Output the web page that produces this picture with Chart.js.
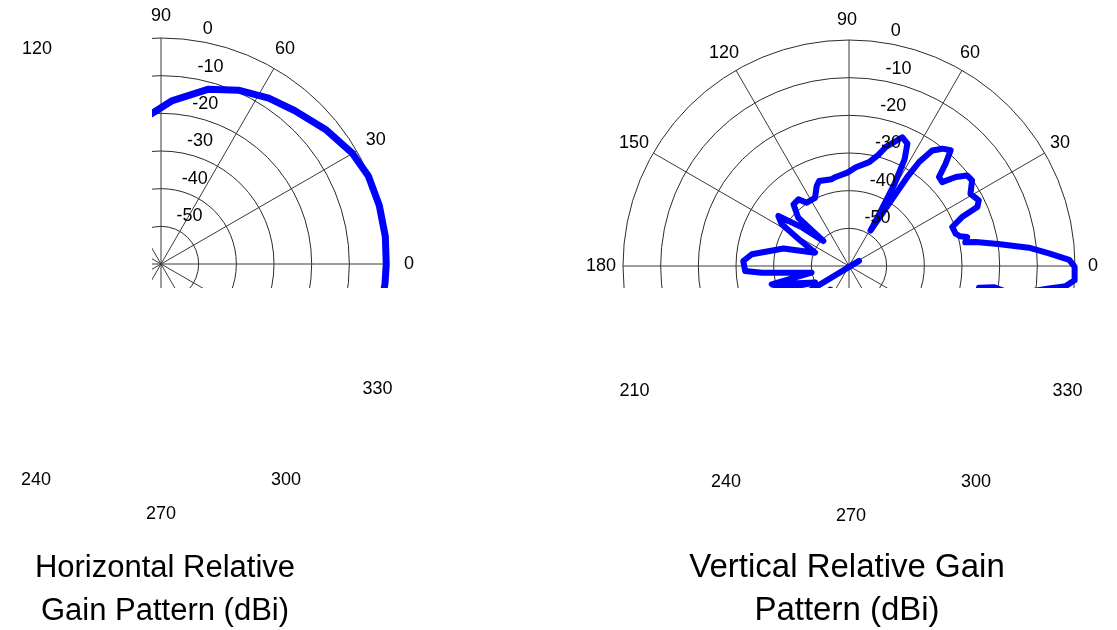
<!DOCTYPE html>
<html>
<head>
<meta charset="utf-8">
<script src="https://cdn.jsdelivr.net/npm/chart.js@4.4.1/dist/chart.umd.min.js"></script>
<style>
  html, body { margin: 0; padding: 0; background: #fff; }
  body { width: 1117px; height: 630px; position: relative; overflow: hidden; font-family: "Liberation Sans", Arial, sans-serif; }
  canvas { position: absolute; top: 0; }
  #hChart { left: 0; }
  #vChart { left: 558px; }
  .title { position: absolute; width: 400px; text-align: center; line-height: 43px; color: #000; }
  #hTitle { left: -35px; top: 545px; font-size: 31px; }
  #vTitle { left: 647px; top: 544px; font-size: 33px; }
</style>
</head>
<body>
<canvas id="hChart" width="558" height="630"></canvas>
<canvas id="vChart" width="559" height="630"></canvas>
<div class="title" id="hTitle">Horizontal Relative<br>Gain Pattern (dBi)</div>
<div class="title" id="vTitle">Vertical Relative Gain<br>Pattern (dBi)</div>

<script>
// radial scale: dB, centre of the plot is the floor
const dbFloor = -60;
const ringValues = [-50, -40, -30, -20, -10, 0];
const spokeAngles = [0, 30, 60, 90, 120, 150];

// angle tick labels (upper half and lower half of each plot)
const hUpperLabels = [0, 30, 60, 90, 120];
const hLowerLabels = [240, 270, 300, 330];
const vUpperLabels = [0, 30, 60, 90, 120, 150, 180];
const vLowerLabels = [210, 240, 270, 300, 330];

// horizontal pattern (angle in degrees, gain in dB)
const hAngles = [-10, -5, 0, 7, 15, 23, 30, 39, 49, 57, 66, 75, 86, 93, 100];
const hGain = [-0.5, -0.3, -0.2, 0, 0, -0.2, -1.3, -3.5, -6, -7.5, -9.5, -12, -16.5, -19.8, -22];

// vertical pattern, null = break in the trace
const vAngles = [
  -9, -6.4, -5.3, -3.6, -0.2, 1.6, 3.6, 5.8, 8.4, 10.7, 11.5, 13.8, 15, 16.8, 20.7,
  23.4, 24.7, 26.8, 30.7, 34.8, 37.5, 39.8, 42, 44.7, 46.6, 48.7, 51.5, 54.2, 56,
  56.8, 57.3, 58.7, 60, 61, 62.5, 64.5, 67.5, 72.9, 75, 79, 86, 91, 98.5, 101.3,
  109.4, 112, 116.5, 123.7, 127.2, 132, 136.4, 135.8, 140.5, 144.7, 148.2, 152,
  158.6, 165, 173.1, 177.3, 182.8, 184.4, 190.2, 193.3, 206, 197, 200,
  null, 27, 212,
  null, 232, 240,
  null, -9.5, -8.3, -9.5
];
const vGain = [
  -14, -6.6, -2.2, 0, -0.1, -1.5, -6.8, -12, -20, -25.8, -28.5, -27.7, -29.5, -30.4, -30.7,
  -27.3, -22.5, -21.4, -22.5, -20.2, -20.5, -23.1, -26.7, -26.4, -22.7, -19.1, -20.2, -22.2, -26.7,
  -31.9, -40.4, -49, -43, -35, -28, -24, -23, -27, -29.3, -31.9, -33.7, -35.2, -36.1, -36.5,
  -36.1, -37.1, -39.8, -39.8, -37.8, -38, -41.4, -50.5, -44, -37, -39, -45,
  -50.3, -42, -34, -31.9, -32.4, -36.8, -49.9, -38.9, -50, -36, -33,
  null, -57, -45,
  null, -52, -50,
  null, -17, -21, -25
];

const BLUE = "#0000ff";

function toXY(angles, gains) {
  return angles.map((a, i) => {
    const g = gains[i];
    if (a === null || g === null) return { x: null, y: null };
    const r = g - dbFloor;
    const t = (a * Math.PI) / 180;
    return { x: r * Math.cos(t), y: r * Math.sin(t) };
  });
}

const polarGrid = {
  id: "polarGrid",
  beforeDatasetsDraw(chart) {
    const { ctx, chartArea: a } = chart;
    const x = chart.scales.x, y = chart.scales.y;
    const cx = x.getPixelForValue(0), cy = y.getPixelForValue(0);
    ctx.save();
    ctx.beginPath();
    ctx.rect(a.left, a.top, a.right - a.left, a.bottom - a.top);
    ctx.clip();
    ctx.lineWidth = 1;
    ctx.strokeStyle = "#2b2b2b";
    ringValues.forEach((v) => {
      const rx = x.getPixelForValue(v - dbFloor) - cx;
      const ry = cy - y.getPixelForValue(v - dbFloor);
      ctx.beginPath();
      ctx.ellipse(cx, cy, rx, ry, 0, 0, 2 * Math.PI);
      ctx.stroke();
    });
    ctx.strokeStyle = "#3a3a3a";
    const rMax = -dbFloor;
    spokeAngles.forEach((deg) => {
      const t = (deg * Math.PI) / 180;
      ctx.beginPath();
      ctx.moveTo(x.getPixelForValue(rMax * Math.cos(t)), y.getPixelForValue(rMax * Math.sin(t)));
      ctx.lineTo(x.getPixelForValue(-rMax * Math.cos(t)), y.getPixelForValue(-rMax * Math.sin(t)));
      ctx.stroke();
    });
    ctx.restore();
  },
  afterDraw(chart, args, opts) {
    const { ctx } = chart;
    const x = chart.scales.x, y = chart.scales.y;
    const cx = x.getPixelForValue(0), cy = y.getPixelForValue(0);
    ctx.save();
    ctx.fillStyle = "#000";
    ctx.font = '18px "Liberation Sans", Arial, sans-serif';
    ctx.textAlign = "center";
    ctx.textBaseline = "middle";
    opts.upper.forEach((deg) => {
      const t = (deg * Math.PI) / 180;
      ctx.fillText(String(deg), cx + opts.upperShift + opts.labelR * Math.cos(t), cy - opts.labelR * Math.sin(t));
    });
    opts.lower.forEach((deg) => {
      const t = (deg * Math.PI) / 180;
      ctx.fillText(String(deg), cx + opts.lowerShift + opts.lowerR * Math.cos(t), cy - opts.lowerR * Math.sin(t));
    });
    // ring labels along the 82 degree line
    ctx.textAlign = "left";
    ctx.textBaseline = "bottom";
    const t82 = (82 * Math.PI) / 180;
    ringValues.forEach((v) => {
      const r = v - dbFloor + 0.5;
      const px = x.getPixelForValue(r * Math.cos(t82));
      const py = y.getPixelForValue(r * Math.sin(t82));
      ctx.fillText("  " + v, px, py);
    });
    ctx.restore();
  },
};

function makeChart(id, angles, gains, geo, lineWidth, labels) {
  const canvas = document.getElementById(id);
  const W = canvas.width, H = canvas.height;
  const k = geo.R / -dbFloor;
  new Chart(canvas, {
    type: "scatter",
    data: {
      datasets: [
        {
          data: toXY(angles, gains),
          showLine: true,
          borderColor: BLUE,
          backgroundColor: BLUE,
          borderWidth: lineWidth,
          borderJoinStyle: "round",
          borderCapStyle: "round",
          pointRadius: 0,
          tension: 0,
          spanGaps: false,
          clip: 0,
        },
      ],
    },
    options: {
      responsive: false,
      animation: false,
      devicePixelRatio: 1,
      layout: {
        padding: { left: geo.left, top: geo.top, right: W - geo.right, bottom: H - geo.bottom },
      },
      scales: {
        x: { type: "linear", display: false, min: (geo.left - geo.cx) / k, max: (geo.right - geo.cx) / k },
        y: { type: "linear", display: false, min: (geo.cy - geo.bottom) / k, max: (geo.cy - geo.top) / k },
      },
      plugins: {
        legend: { display: false },
        tooltip: { enabled: false },
        polarGrid: labels,
      },
    },
    plugins: [polarGrid],
  });
}

makeChart(
  "hChart", hAngles, hGain,
  { cx: 161, cy: 264, R: 226, left: 152, top: 20, right: 400, bottom: 288 },
  7,
  { upper: hUpperLabels, lower: hLowerLabels, labelR: 248, upperShift: 0, lowerR: 250, lowerShift: 0 }
);
makeChart(
  "vChart", vAngles, vGain,
  { cx: 291, cy: 266, R: 226, left: 40, top: 20, right: 545, bottom: 288 },
  6,
  { upper: vUpperLabels, lower: vLowerLabels, labelR: 246, upperShift: -2, lowerR: 250, lowerShift: 2 }
);
</script>
</body>
</html>
